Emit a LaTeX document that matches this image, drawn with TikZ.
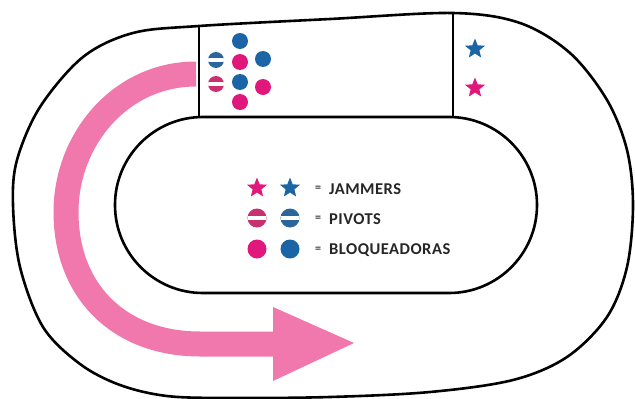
\documentclass[tikz,border=0pt]{standalone}
\usepackage{fontspec}
\setmainfont{Carlito}
\usetikzlibrary{shapes.geometric}
\definecolor{arrowpink}{HTML}{F078AC}
\definecolor{tpink}{HTML}{E0187C}
\definecolor{tblue}{HTML}{1B64A5}
\definecolor{ppink}{HTML}{C9306F}
\definecolor{pblue}{HTML}{2A6699}
\tikzset{
  trackline/.style={line width=2.6pt, black},
  boxline/.style={line width=1.8pt, black},
  player/.style={circle, fill=#1, minimum size=16pt, inner sep=0pt},
  legplayer/.style={circle, fill=#1, minimum size=19pt, inner sep=0pt},
  pivotp/.style={circle, fill=#1, minimum size=16pt, inner sep=0pt,
    path picture={\fill[white] ([yshift=-1.6pt]path picture bounding box.west) rectangle ([yshift=1.6pt]path picture bounding box.east);}},
  legpivot/.style={circle, fill=#1, minimum size=19pt, inner sep=0pt,
    path picture={\fill[white] ([yshift=-1.8pt]path picture bounding box.west) rectangle ([yshift=1.8pt]path picture bounding box.east);}},
  jammer/.style={star, star points=5, star point ratio=2.3, fill=#1, minimum size=21pt, inner sep=0pt},
  legtext/.style={anchor=west, inner sep=0pt, font=\fontsize{16.5}{19}\selectfont\bfseries\addfontfeature{LetterSpace=3}, text=black!85},
  eqsign/.style={inner sep=0pt, font=\fontsize{12}{14}\selectfont\bfseries, text=black!75}
}
\begin{document}
\begin{tikzpicture}[x=1pt,y=-1pt]
\useasboundingbox (0,0) rectangle (635,399);
\fill[white] (0,0) rectangle (635,399);
% outer track boundary
\draw[trackline] plot[smooth cycle, tension=0.55] coordinates {
  (199,26) (330,19) (453,13) (520,23) (570,53) (607,100) (627,150) (633,205)
  (627,267) (607,317) (567,357) (513,380) (430,392) (330,397) (230,398)
  (167,396) (120,385) (80,364) (43,327) (20,267) (13,205) (17,160) (40,107)
  (83,57) (133,33)};
% pink arrow
\draw[arrowpink, line width=25pt] (196,74) .. controls (120,74) and (66,140) .. (66,212)
  .. controls (66,292) and (120,344) .. (200,344) -- (275,344);
\fill[arrowpink] (273,307) -- (354,343) -- (273,381) -- cycle;
% inner infield
\draw[trackline] (115,117) [rounded corners=87.9pt] rectangle (537,293);
% start box lines
\draw[boxline] (199,26) -- (199,117);
\draw[boxline] (453,14) -- (453,117);
% players in box
\node[player=tblue] (b1) at (240,41) {};
\node[pivotp=pblue] (pv1) at (216,60) {};
\node[player=tpink] (m1) at (240,62) {};
\node[player=tblue] (b2) at (263,59) {};
\node[pivotp=ppink] (pv2) at (216,84) {};
\node[player=tblue] (b3) at (240,82) {};
\node[player=tpink] (m2) at (263,87) {};
\node[player=tpink] (m3) at (240,102) {};
% jammers
\node[jammer=tblue] (jb) at (475,49) {};
\node[jammer=tpink] (jp) at (475,88) {};
% legend
\node[jammer=tpink] (lj1) at (257,188) {};
\node[jammer=tblue] (lj2) at (290,188) {};
\node[eqsign] (e1) at (318,189) {=};
\node[legtext] (t1) at (329,189) {JAMMERS};
\node[legpivot=ppink] (lp1) at (257,218) {};
\node[legpivot=pblue] (lp2) at (290,218) {};
\node[eqsign] (e2) at (318,219) {=};
\node[legtext] (t2) at (329,219) {PIVOTS};
\node[legplayer=tpink] (lb1) at (257,249) {};
\node[legplayer=tblue] (lb2) at (290,249) {};
\node[eqsign] (e3) at (318,250) {=};
\node[legtext] (t3) at (329,250) {BLOQUEADORAS};
\end{tikzpicture}
\end{document}
